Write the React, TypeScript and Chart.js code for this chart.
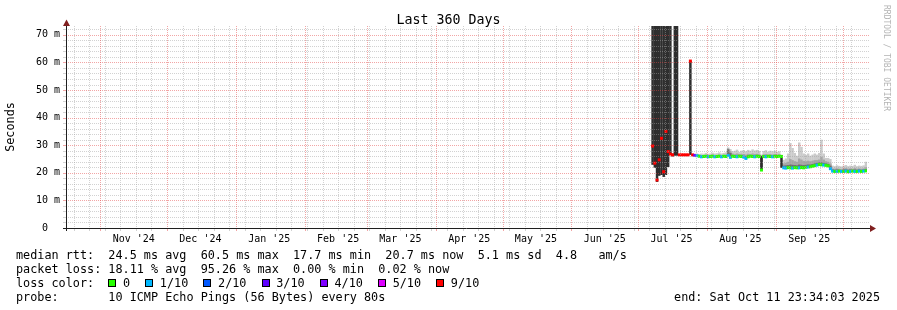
import React, { useEffect, useRef } from 'react';
import { Chart, registerables } from 'chart.js';

Chart.register(...registerables);

const FONT = '"DejaVu Sans Mono", monospace';
const DAY = 86400000;

// time range of the graph
const rangeStartIso = '2024-10-16T23:34:03Z';
const rangeEndIso = '2025-10-11T23:34:03Z';

// month boundaries (major grid) and month labels
const monthStarts = [
  '2024-11-01', '2024-12-01', '2025-01-01', '2025-02-01', '2025-03-01', '2025-04-01',
  '2025-05-01', '2025-06-01', '2025-07-01', '2025-08-01', '2025-09-01', '2025-10-01',
];
const monthLabels = [
  "Nov '24", "Dec '24", "Jan '25", "Feb '25", "Mar '25", "Apr '25",
  "May '25", "Jun '25", "Jul '25", "Aug '25", "Sep '25",
];
const firstWeekLine = '2024-10-20';

// y axis ticks
const yMax = 73.2;
const yTickStep = 2;
const yLabelStep = 10;

// daily samples, starting at this date
const firstSample = '2025-07-07';

// median RTT (ms)
const median: (number | null)[] = [
  29.7, 23.5, 17.4, 24.7, 32.5, 20.4, 35.0, 27.7, 26.8,
  26.5,
  null, null,
  26.5, 26.5, 26.5, 26.5, 26.5,
  60.5,
  26.5,
  26.3,
  26.2,
  26.0, 25.8, 25.9, 26.0, 25.8, 25.9, 26.0, 25.8, 25.9, 26.0, 25.8, 26.0, 25.9,
  26.3, 25.6, 26.0, 25.9, 25.8, 26.0, 25.9, 25.7, 25.2, 25.8, 26.0, 25.9, 25.8, 26.0, 25.9,
  21.0,
  25.9, 25.8, 26.0, 25.9, 25.8, 26.0, 25.9, 26.0, 25.9,
  21.8, 21.7, 21.9, 21.8, 21.7, 21.9, 21.8, 21.8, 21.9, 21.8, 22.0, 22.1, 22.2, 22.4, 22.6, 22.8, 23.0, 22.9, 22.8, 22.7, 22.5, 21.5,
  20.6, 20.5, 20.5, 20.6, 20.5, 20.5, 20.6, 20.4, 20.5, 20.6, 20.5, 20.5, 20.6, 20.5, 20.6, 20.7,
];

// packet loss (tenths) per sample
const lossTenths: number[] = [
  9, 9, 9, 9, 9, 9, 9, 9, 9,
  9,
  9, 9,
  9, 9, 9, 9, 9,
  9,
  9,
  4,
  1,
  0, 1, 0, 0, 1, 0, 0, 1, 0, 0, 1, 0, 0,
  1, 1, 0, 0, 1, 0, 0, 1, 1, 0, 0, 0, 1, 0, 0,
  0,
  0, 1, 0, 0, 1, 0, 0, 0, 0,
  1, 1, 0, 0, 1, 0, 0, 1, 0, 0, 0, 1, 0, 0, 0, 1, 0, 0, 1, 0, 0, 1,
  1, 0, 1, 0, 1, 0, 1, 0, 1, 0, 1, 0, 1, 0, 1, 0,
];

// smoke: upper edges of the grey layers (ms), lower edge is the median
const smokeOuter: (number | null)[] = [
  null, null, null, null, null, null, null, null, null, null,
  null, null, null, null, null, null, null, null, null,
  26.9, 27.0, 26.8, 27.0, 26.9, 27.2, 26.9, 27.0, 27.3, 27.0, 27.1, 27.4, 27.0, 27.2, 27.4,
  29.2, 28.6, 27.8, 28.0, 28.4, 27.6, 28.0, 28.2, 27.8, 28.3, 28.0, 28.5, 28.1, 28.3, 27.9,
  26.6,
  27.9, 28.2, 27.6, 28.0, 27.8, 28.0, 27.6, 27.8, 26.6,
  24.7, 25.2, 27.0, 30.8, 29.0, 27.2, 26.2, 31.0, 29.4, 27.0, 26.5, 27.0, 26.2, 26.6, 27.0, 26.6, 27.2, 32.0, 27.0, 25.4, 25.4, 25.0,
  22.6, 22.4, 22.7, 22.5, 22.3, 22.6, 22.8, 22.4, 22.6, 22.5, 22.9, 22.4, 22.6, 22.5, 22.7, 24.0,
];
const smokeMid: (number | null)[] = [
  null, null, null, null, null, null, null, null, null, null,
  null, null, null, null, null, null, null, null, null,
  26.6, 26.6, 26.4, 26.4, 26.4, 26.5, 26.3, 26.4, 26.6, 26.3, 26.4, 26.6, 26.3, 26.5, 26.6,
  28.8, 27.8, 27.0, 26.8, 27.0, 26.8, 26.9, 26.8, 26.6, 26.9, 26.8, 27.0, 26.8, 26.9, 26.7,
  26.3,
  26.7, 26.8, 26.6, 26.8, 26.6, 26.8, 26.6, 26.7, 26.4,
  23.4, 23.6, 24.0, 25.0, 24.6, 24.2, 24.0, 25.2, 24.8, 24.3, 24.2, 24.4, 24.2, 24.4, 24.6, 24.6, 24.8, 25.8, 24.8, 24.2, 24.0, 23.4,
  21.6, 21.5, 21.6, 21.5, 21.4, 21.6, 21.7, 21.5, 21.6, 21.5, 21.7, 21.5, 21.6, 21.5, 21.6, 22.0,
];
const smokeInner: (number | null)[] = [
  null, null, null, null, null, null, null, null, null, null,
  null, null, null, null, null, null, null, null, null,
  26.4, 26.4, 26.2, 26.1, 26.1, 26.2, 26.0, 26.1, 26.2, 26.0, 26.1, 26.2, 26.0, 26.2, 26.2,
  28.5, 27.2, 26.4, 26.3, 26.2, 26.3, 26.3, 26.1, 26.0, 26.3, 26.4, 26.4, 26.2, 26.4, 26.3,
  26.0,
  26.3, 26.2, 26.4, 26.3, 26.2, 26.4, 26.3, 26.4, 26.2,
  22.6, 22.7, 22.8, 23.0, 22.9, 22.8, 22.7, 23.0, 22.9, 22.8, 22.9, 23.0, 23.0, 23.2, 23.4, 23.6, 23.8, 23.8, 23.6, 23.4, 23.2, 22.6,
  21.2, 21.1, 21.2, 21.1, 21.0, 21.2, 21.2, 21.1, 21.2, 21.1, 21.2, 21.1, 21.2, 21.1, 21.2, 21.3,
];

// dark smoke during heavy loss (low / high edges, ms; 99 = off the top)
const darkLo: (number | null)[] = [
  22.9, 21.8, 16.7, 18.9, 19.2, 18.5, 19.2, 22.1, 26.8, 25.9, 26.2, 26.2,
  null, null, null, null, null,
  26.5,
  null,
  null, null, null, null, null, null, null, null, null, null, null, null, null, null, null,
  null, null, null, null, null, null, null, null, null, null, null, null, null, null, null,
  21.0,
  null, null, null, null, null, null, null, null,
  21.8,
  null, null, null, null, null, null, null, null, null, null, null, null, null, null, null, null, null, null, null, null, null, null,
  null, null, null, null, null, null, null, null, null, null, null, null, null, null, null, null,
];
const darkHi: (number | null)[] = [
  99, 99, 99, 99, 99, 99, 99, 99, 99, 27.0, 99, 99,
  null, null, null, null, null,
  60.5,
  null,
  null, null, null, null, null, null, null, null, null, null, null, null, null, null, null,
  null, null, null, null, null, null, null, null, null, null, null, null, null, null, null,
  26.0,
  null, null, null, null, null, null, null, null,
  26.2,
  null, null, null, null, null, null, null, null, null, null, null, null, null, null, null, null, null, null, null, null, null, null,
  null, null, null, null, null, null, null, null, null, null, null, null, null, null, null, null,
];

// legend
const lossLabels = ['0', '1/10', '2/10', '3/10', '4/10', '5/10', '9/10'];
const lossLegendTenths = [0, 1, 2, 3, 4, 5, 9];
const lossColors = ['#26ff00', '#00b8ff', '#0059ff', '#5e00ff', '#7e00ff', '#dd00ff', '#ff0000'];
const titleText = 'Last 360 Days';
const yTitle = 'Seconds';
const rttLine = 'median rtt:  24.5 ms avg  60.5 ms max  17.7 ms min  20.7 ms now  5.1 ms sd  4.8   am/s';
const lossLine = 'packet loss: 18.11 % avg  95.26 % max  0.00 % min  0.02 % now';
const lossColorLabel = 'loss color:  ';
const probeLine = 'probe:       10 ICMP Echo Pings (56 Bytes) every 80s';
const endLine = 'end: Sat Oct 11 23:34:03 2025';
const watermark = 'RRDTOOL / TOBI OETIKER';

const MINOR_GRID = 'rgba(160,160,160,0.48)';
const MAJOR_GRID = 'rgba(228,70,70,0.48)';

const rangeStart = Date.parse(rangeStartIso);
const rangeEnd = Date.parse(rangeEndIso);

function colorForLoss(t: number): string {
  const i = lossLegendTenths.indexOf(t);
  return lossColors[i >= 0 ? i : lossColors.length - 1];
}

function buildChart(canvas: HTMLCanvasElement): Chart {
  const t0 = Date.parse(firstSample + 'T00:00:00Z');
  const xs = median.map((_, i) => t0 + (i + 0.5) * DAY);

  const medPts: { x: number; y: number }[] = [];
  const medCols: string[] = [];
  median.forEach((m, i) => {
    if (m !== null) {
      medPts.push({ x: xs[i], y: m });
      medCols.push(colorForLoss(lossTenths[i]));
    }
  });

  const band = (hi: (number | null)[], lo: (number | null)[]) => {
    const out: { x: number; y: [number, number] }[] = [];
    hi.forEach((h, i) => {
      const l = lo[i];
      if (h !== null && l !== null && l !== undefined) out.push({ x: xs[i], y: [l, h] });
    });
    return out;
  };

  const barCommon = {
    type: 'bar' as const,
    grouped: false,
    barPercentage: 1.12,
    categoryPercentage: 1,
    borderWidth: 0,
    xAxisID: 'x',
    yAxisID: 'y',
  };

  const monthStartTimes = monthStarts
    .map((d) => Date.parse(d + 'T00:00:00Z'))
    .filter((t) => t >= rangeStart && t <= rangeEnd);
  const monthLabelTimes = monthStarts
    .map((d) => Date.parse(d + 'T00:00:00Z') + 15 * DAY)
    .filter((t) => t >= rangeStart && t <= rangeEnd);

  const weekTimes: number[] = [];
  for (let t = Date.parse(firstWeekLine + 'T00:00:00Z'); t <= rangeEnd; t += 7 * DAY) {
    if (!monthStartTimes.includes(t)) weekTimes.push(t);
  }

  const yMajor: number[] = [];
  const yMinor: number[] = [];
  for (let v = 0; v <= yMax; v += yTickStep) {
    if (v % yLabelStep === 0) yMajor.push(v);
    else yMinor.push(v);
  }

  // rrdtool style dotted grid, positioned through the chart scales
  const gridPlugin = {
    id: 'rrdGrid',
    afterDatasetsDraw(chart: Chart) {
      const { ctx, chartArea: a } = chart;
      const xScale: any = chart.scales.x;
      const yScale: any = chart.scales.y;
      const top = Math.round(a.top);
      const bottom = Math.round(a.bottom);
      const left = Math.round(a.left);
      const right = Math.round(a.right);
      ctx.save();
      const vline = (t: number, color: string) => {
        const px = Math.round(xScale.getPixelForValue(t));
        ctx.fillStyle = color;
        for (let y = top; y < bottom; y += 2) ctx.fillRect(px, y, 1, 1);
        ctx.fillRect(px, bottom + 1, 1, 2);
      };
      const hline = (v: number, color: string) => {
        const py = Math.round(yScale.getPixelForValue(v));
        ctx.fillStyle = color;
        for (let x = left + 1; x < right + 3; x += 2) ctx.fillRect(x, py, 1, 1);
        ctx.fillRect(left - 4, py, 3, 1);
      };
      weekTimes.forEach((t) => vline(t, MINOR_GRID));
      yMinor.forEach((v) => hline(v, MINOR_GRID));
      monthStartTimes.forEach((t) => vline(t, MAJOR_GRID));
      yMajor.forEach((v) => v > 0 && hline(v, MAJOR_GRID));
      ctx.restore();
    },
  };

  const axisPlugin = {
    id: 'rrdAxes',
    afterDraw(chart: Chart) {
      const { ctx, chartArea: a } = chart;
      const ax = Math.round(a.left) - 0.5;
      const ay = Math.round(a.bottom) + 0.5;
      ctx.save();
      ctx.strokeStyle = '#1f1f1f';
      ctx.lineWidth = 1;
      ctx.beginPath();
      ctx.moveTo(a.left - 4, ay);
      ctx.lineTo(a.right + 3, ay);
      ctx.moveTo(ax, a.bottom + 3);
      ctx.lineTo(ax, a.top - 4);
      ctx.stroke();
      ctx.fillStyle = '#801f1f';
      ctx.beginPath();
      ctx.moveTo(ax, a.top - 6.5);
      ctx.lineTo(ax - 3.5, a.top);
      ctx.lineTo(ax + 3.5, a.top);
      ctx.closePath();
      ctx.fill();
      ctx.beginPath();
      ctx.moveTo(a.right + 9, ay);
      ctx.lineTo(a.right + 3, ay - 3.5);
      ctx.lineTo(a.right + 3, ay + 3.5);
      ctx.closePath();
      ctx.fill();
      ctx.restore();
    },
  };

  return new Chart(canvas, {
    type: 'bar',
    data: {
      datasets: [
        {
          type: 'scatter',
          data: medPts,
          pointStyle: 'rect',
          pointRadius: 2.1,
          pointBackgroundColor: medCols,
          pointBorderWidth: 0,
          borderWidth: 0,
          xAxisID: 'x',
          yAxisID: 'y',
          order: 0,
        } as any,
        { ...barCommon, data: band(darkHi, darkLo), backgroundColor: '#2e2e2e', order: 1 } as any,
        { ...barCommon, data: band(smokeInner, median), backgroundColor: '#6f6f6f', order: 2 } as any,
        { ...barCommon, data: band(smokeMid, median), backgroundColor: '#a6a6a6', order: 3 } as any,
        { ...barCommon, data: band(smokeOuter, median), backgroundColor: '#cbcbcb', order: 4 } as any,
      ],
    },
    options: {
      responsive: false,
      animation: false,
      events: [],
      layout: { padding: { top: 26, right: 30, left: 0, bottom: 0 } },
      plugins: {
        legend: { display: false },
        tooltip: { enabled: false },
        title: { display: false },
      },
      scales: {
        x: {
          type: 'linear',
          position: 'bottom',
          offset: false,
          min: rangeStart,
          max: rangeEnd,
          grid: { display: false, drawTicks: false, offset: false },
          border: { display: false },
          ticks: {
            autoSkip: false,
            maxRotation: 0,
            padding: 5,
            color: '#000',
            font: { family: FONT, size: 10 },
            callback: (_v: any, i: number) => monthLabels[i] ?? '',
          },
          afterBuildTicks: (s: any) => {
            s.ticks = monthLabelTimes.map((value) => ({ value }));
          },
          afterFit: (s: any) => {
            s.height = 82;
            s.paddingLeft = 0;
            s.paddingRight = 0;
          },
        },
        y: {
          type: 'linear',
          position: 'left',
          min: 0,
          max: yMax,
          grid: { display: false, drawTicks: false },
          border: { display: false },
          ticks: {
            autoSkip: false,
            padding: 7,
            color: '#000',
            font: { family: FONT, size: 10 },
            callback: (v: any) => {
              const n = Number(v);
              return n === 0 ? '0  ' : `${n} m`;
            },
          },
          afterBuildTicks: (s: any) => {
            s.ticks = yMajor.map((value) => ({ value }));
          },
          afterFit: (s: any) => {
            s.width = 67;
          },
          title: {
            display: true,
            text: yTitle,
            color: '#000',
            font: { family: FONT, size: 11.8 },
            padding: { top: 4, bottom: 0 },
          },
        },
      } as any,
    },
    plugins: [gridPlugin, axisPlugin],
  } as any);
}

const lineStyle: React.CSSProperties = {
  position: 'absolute',
  left: 16,
  height: 14,
  lineHeight: '14px',
  fontSize: '11.8px',
  fontFamily: FONT,
  whiteSpace: 'pre',
  color: '#000',
};

export default function App() {
  const ref = useRef<HTMLCanvasElement>(null);
  useEffect(() => {
    if (!ref.current) return;
    const chart = buildChart(ref.current);
    return () => chart.destroy();
  }, []);

  return (
    <div
      style={{
        position: 'absolute',
        left: 0,
        top: 0,
        width: 897,
        height: 310,
        background: '#fff',
        overflow: 'hidden',
        fontFamily: FONT,
      }}
    >
      <canvas ref={ref} width={897} height={310} style={{ position: 'absolute', left: 0, top: 0, width: 897, height: 310 }} />
      <div
        style={{
          position: 'absolute',
          left: 0,
          top: 12,
          width: 897,
          textAlign: 'center',
          fontSize: '13.3px',
          lineHeight: '16px',
          whiteSpace: 'pre',
          color: '#000',
        }}
      >
        {titleText}
      </div>
      <div
        style={{
          position: 'absolute',
          left: 881,
          top: 5,
          width: 10,
          writingMode: 'vertical-rl',
          fontSize: '8px',
          lineHeight: '10px',
          whiteSpace: 'pre',
          color: '#b4b4b4',
        }}
      >
        {watermark}
      </div>
      <div style={{ ...lineStyle, top: 248 }}>{rttLine}</div>
      <div style={{ ...lineStyle, top: 262 }}>{lossLine}</div>
      <div style={{ ...lineStyle, top: 276, display: 'flex', alignItems: 'center' }}>
        <span>{lossColorLabel}</span>
        {lossLabels.map((lab, i) => (
          <span key={lab} style={{ display: 'inline-flex', alignItems: 'center', marginRight: 15.2 }}>
            <span
              style={{
                display: 'inline-block',
                width: 8,
                height: 8,
                boxSizing: 'border-box',
                border: '1px solid #000',
                background: lossColors[i],
                marginRight: 6.6,
              }}
            />
            <span>{lab}</span>
          </span>
        ))}
      </div>
      <div style={{ ...lineStyle, top: 290 }}>{probeLine}</div>
      <div style={{ ...lineStyle, top: 290, left: 'auto', right: 17 }}>{endLine}</div>
    </div>
  );
}
